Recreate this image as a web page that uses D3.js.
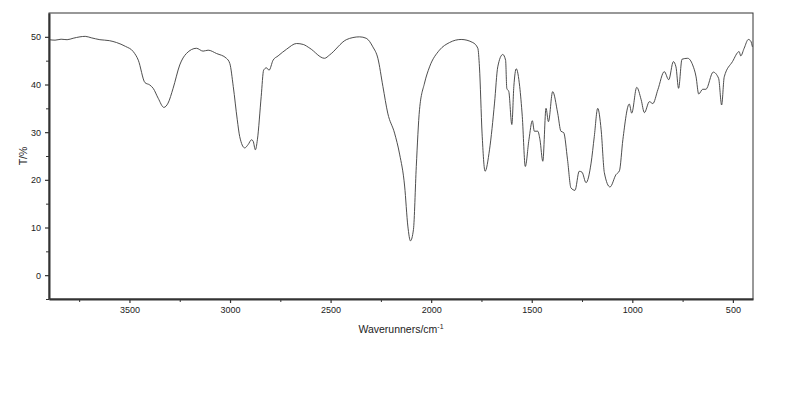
<!DOCTYPE html>
<html>
<head>
<meta charset="utf-8">
<script src="https://cdn.jsdelivr.net/npm/d3@7"></script>
<style>
  body { margin: 0; background: #fff; }
  text { font-family: "Liberation Sans", Arial, sans-serif; fill: #222; }
</style>
</head>
<body>
<svg id="vis" width="800" height="400"></svg>
<script>
// IR spectrum (wavenumber in cm-1, transmittance in %)
const wavenumbers = [
  3900, 3870, 3840, 3810, 3780, 3746, 3720, 3690, 3647, 3600, 3564, 3520, 3481, 3456,
  3423, 3399, 3382, 3357, 3329, 3308, 3283, 3250, 3217, 3167, 3134, 3109, 3067, 3018,
  3001, 2984, 2964, 2952, 2927, 2910, 2893, 2885, 2874, 2864, 2845, 2833, 2819, 2806,
  2786, 2761, 2719, 2669, 2636, 2603, 2530, 2505, 2422, 2389, 2356, 2323, 2290, 2265,
  2240, 2216, 2182, 2157, 2132, 2116, 2103, 2088, 2074, 2058, 2033, 2008, 1959, 1909,
  1851, 1793, 1768, 1760, 1747, 1732, 1710, 1685, 1669, 1644, 1630, 1624, 1614, 1599,
  1589, 1577, 1560, 1547, 1532, 1514, 1497, 1487, 1470, 1459, 1445, 1429, 1417, 1396,
  1371, 1355, 1341, 1322, 1305, 1285, 1264, 1250, 1230, 1205, 1189, 1172, 1155, 1139,
  1111, 1081, 1064, 1047, 1015, 1003, 978, 956, 940, 915, 898, 873, 841, 819,
  796, 783, 770, 753, 725, 700, 683, 670, 650, 634, 598, 571, 556, 543,
  502, 469, 461, 444, 423, 411, 403
];
const transmittance = [
  49.4, 49.3, 49.5, 49.4, 49.7, 50.0, 50.1, 49.8, 49.4, 49.2, 48.8, 48.0, 46.9, 45.1,
  40.4, 39.9, 39.2, 37.1, 35.2, 36.1, 39.2, 44.1, 46.5, 47.6, 47.0, 47.2, 46.5, 45.5,
  44.4, 39.6, 32.6, 29.1, 26.7, 27.4, 28.4, 28.1, 26.3, 28.4, 37.5, 43.0, 43.5, 43.0,
  45.1, 46.0, 47.4, 48.6, 48.4, 47.6, 45.5, 46.2, 49.4, 49.85, 50.0, 49.7, 47.9, 45.5,
  39.6, 34.0, 29.8, 25.4, 18.7, 10.3, 7.2, 9.6, 22.8, 34.7, 40.3, 43.7, 47.2, 48.8,
  49.45, 48.8, 47.6, 43.7, 29.8, 21.8, 26.3, 36.1, 43.7, 46.3, 45.1, 39.2, 38.5, 31.6,
  39.6, 43.3, 39.6, 33.3, 22.8, 28.4, 32.4, 30.2, 30.2, 28.4, 23.9, 35.0, 32.2, 38.5,
  34.0, 30.2, 29.9, 24.2, 18.3, 17.8, 21.8, 21.6, 19.4, 23.5, 29.1, 35.0, 30.5, 21.5,
  18.5, 21.1, 21.9, 28.4, 35.9, 34.0, 39.4, 36.8, 34.1, 36.4, 36.0, 38.9, 42.7, 41.0,
  44.8, 43.7, 39.2, 45.3, 45.5, 44.1, 41.6, 38.0, 39.0, 39.0, 42.6, 41.3, 35.7, 41.6,
  44.8, 46.9, 46.0, 47.6, 49.45, 49.1, 47.9
];
const xTicks = [3500, 3000, 2500, 2000, 1500, 1000, 500];
const yTicks = [0, 10, 20, 30, 40, 50];

const data = wavenumbers.map((w, i) => ({ w: w, t: transmittance[i] }));

function path() {
    let margin = { top: 13, right: 47, bottom: 101, left: 49 };
    let svg = d3.select("#vis");
    let width = +svg.attr("width") - margin.left - margin.right;
    let height = +svg.attr("height") - margin.top - margin.bottom;
    let g = svg.append("g").attr("transform", `translate(${margin.left}, ${margin.top})`);

    let x = d3.scaleLinear().domain([3900, 400]).range([0, width]);
    let y = d3.scaleLinear().domain([-5, 55]).range([height, 0]);

    // frame
    g.append("rect")
        .attr("width", width).attr("height", height)
        .attr("fill", "none").attr("stroke", "#333").attr("stroke-width", 1);

    // minor ticks
    g.append("g")
        .attr("transform", `translate(0, ${height})`)
        .call(d3.axisBottom(x).tickValues(d3.range(3750, 400, -500)).tickSize(3).tickFormat(""))
        .call(a => a.select(".domain").remove())
        .selectAll("line").attr("stroke", "#333");
    g.append("g")
        .call(d3.axisLeft(y).tickValues(d3.range(-5, 55, 10)).tickSize(3).tickFormat(""))
        .call(a => a.select(".domain").remove())
        .selectAll("line").attr("stroke", "#333");

    let xAxis = g.append("g")
        .attr("transform", `translate(0, ${height})`)
        .call(d3.axisBottom(x).tickValues(xTicks).tickFormat(d3.format("d"))
            .tickSize(4).tickPadding(4).tickSizeOuter(0));
    xAxis.select(".domain").attr("stroke", "#333").attr("stroke-width", 2);
    xAxis.selectAll("line").attr("stroke", "#333").attr("stroke-width", 1.2);
    xAxis.selectAll("text").attr("font-size", 9).attr("fill", "#222");

    let yAxis = g.append("g")
        .call(d3.axisLeft(y).tickValues(yTicks).tickFormat(d3.format("d"))
            .tickSize(4).tickPadding(4).tickSizeOuter(0));
    yAxis.select(".domain").attr("stroke", "#333").attr("stroke-width", 2);
    yAxis.selectAll("line").attr("stroke", "#333").attr("stroke-width", 1.2);
    yAxis.selectAll("text").attr("font-size", 9).attr("fill", "#222");

    // spectrum
    g.append("path")
        .datum(data)
        .attr("fill", "none")
        .attr("stroke", "#3a3a3a")
        .attr("stroke-width", 0.9)
        .attr("d", d3.line().x(d => x(d.w)).y(d => y(d.t)).curve(d3.curveMonotoneX));

    // axis titles
    let xt = svg.append("text")
        .attr("x", margin.left + width / 2)
        .attr("y", 333)
        .attr("text-anchor", "middle")
        .attr("font-size", 10.5);
    xt.append("tspan").text("Waverunners/cm");
    xt.append("tspan").attr("dy", -4).attr("font-size", 7).text("-1");

    svg.append("text")
        .attr("transform", `translate(27, ${margin.top + y(25)}) rotate(-90)`)
        .attr("text-anchor", "middle")
        .attr("font-size", 10.5)
        .text("T/%");
}
document.addEventListener('DOMContentLoaded', () => {
    path();
});
</script>
</body>
</html>
